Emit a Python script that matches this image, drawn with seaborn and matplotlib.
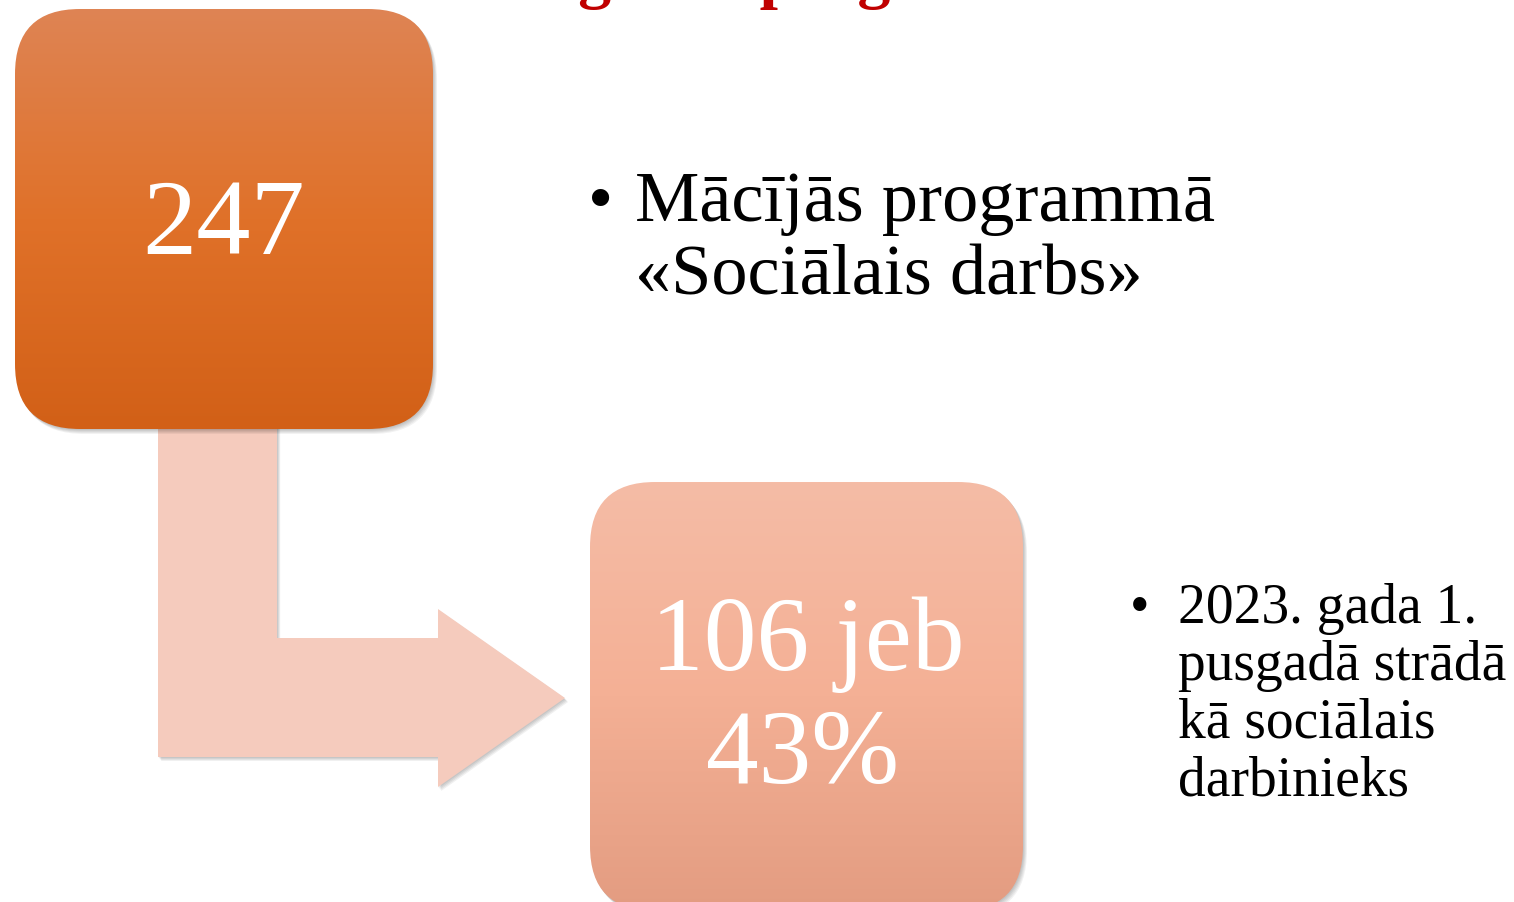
import numpy as np
import matplotlib.pyplot as plt
import seaborn as sns
from matplotlib.patches import FancyBboxPatch, Polygon

# values shown on the slide
total_students = 247
employed = 106
employed_pct = 43
title_text = "Darba gaitas programmā"
top_lines = ["Mācījās programmā", "«Sociālais darbs»"]
bottom_lines = ["2023. gada 1.", "pusgadā strādā", "kā sociālais", "darbinieks"]

sns.set_theme(style="white")
plt.rcParams['font.family'] = ['Liberation Serif', 'DejaVu Serif']

W, H = 1514, 903
fig = plt.figure(figsize=(W / 100, H / 100), dpi=100)
ax = fig.add_axes([0, 0, 1, 1])
ax.set_xlim(0, W)
ax.set_ylim(H, 0)
ax.axis('off')


def rounded_box(x0, y0, x1, y1, colors, radius=65, z=3):
    # soft drop shadow
    for i in range(1, 6):
        sh = FancyBboxPatch((x0 + i * 0.8, y0 + i * 1.0), x1 - x0, y1 - y0,
                            boxstyle=f"round,pad=0,rounding_size={radius}",
                            fc='#000000', ec='none', alpha=0.05, zorder=z - 1)
        ax.add_patch(sh)
    box = FancyBboxPatch((x0, y0), x1 - x0, y1 - y0,
                         boxstyle=f"round,pad=0,rounding_size={radius}",
                         fc='none', ec='none', zorder=z)
    ax.add_patch(box)
    cmap = sns.blend_palette(colors, as_cmap=True)
    grad = np.linspace(0, 1, 256).reshape(-1, 1)
    im = ax.imshow(grad, cmap=cmap, aspect='auto', origin='upper',
                   extent=[x0, x1, y1, y0], zorder=z)
    im.set_clip_path(box)


# L-shaped arrow
arrow_pts = [(158, 425), (277, 425), (277, 639), (438, 639), (438, 610),
             (565, 699), (438, 788), (438, 758), (158, 758)]
for i in range(1, 5):
    ax.add_patch(Polygon([(x + i * 0.8, y + i * 1.0) for x, y in arrow_pts],
                         closed=True, fc='#000000', ec='none', alpha=0.06, zorder=1))
ax.add_patch(Polygon(arrow_pts, closed=True, fc='#F5CBBD', ec='none', zorder=2))

# boxes
rounded_box(15, 10, 433, 430, ['#DE8454', '#E07129', '#D26017'])
rounded_box(590, 483, 1023, 912, ['#F5BCA6', '#F4B095', '#E39C81'])

ax.text(224, 254, f"{total_students}", color='white', fontsize=78,
        ha='center', va='baseline', zorder=5)
ax.text(808, 670, f"{employed} jeb", color='white', fontsize=76,
        ha='center', va='baseline', zorder=5)
ax.text(803, 783, f"{employed_pct}%", color='white', fontsize=76,
        ha='center', va='baseline', zorder=5)

# title, cut off by the top edge as on the slide
ax.text(382, -3.5, title_text, color='#C00000', fontsize=47.5, fontweight='bold',
        ha='left', va='baseline', clip_on=False, zorder=5)

# bullet texts
ax.text(588, 221, "•", fontsize=52, color='black', ha='left', va='baseline')
for i, line in enumerate(top_lines):
    ax.text(635, 221 + i * 74, line, fontsize=52, color='black',
            ha='left', va='baseline')

ax.text(1130, 623, "•", fontsize=40, color='black', ha='left', va='baseline')
for i, line in enumerate(bottom_lines):
    ax.text(1178, 623 + i * 57.5, line, fontsize=40, color='black',
            ha='left', va='baseline')

fig.savefig('out.png', dpi=100)
plt.close(fig)
